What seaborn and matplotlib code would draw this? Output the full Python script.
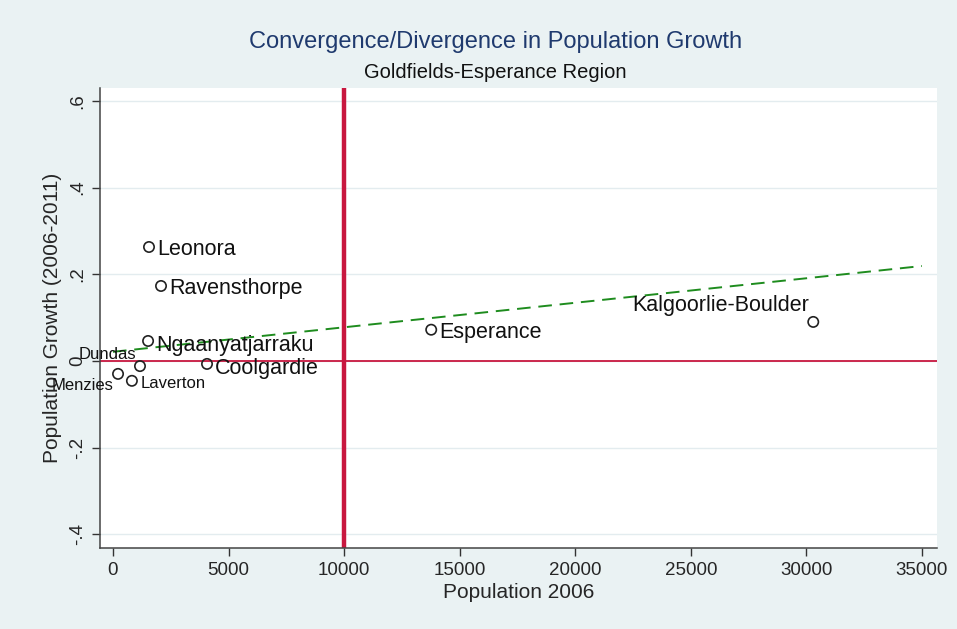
import numpy as np
import pandas as pd
import matplotlib
matplotlib.use("Agg")
import matplotlib.pyplot as plt
import seaborn as sns

# values
lgas = ["Leonora", "Ravensthorpe", "Ngaanyatjarraku", "Dundas", "Menzies",
        "Laverton", "Coolgardie", "Esperance", "Kalgoorlie-Boulder"]
pop_2006 = [1560, 2080, 1520, 1170, 220, 820, 4070, 13770, 30300]
growth = [0.263, 0.173, 0.046, -0.012, -0.030, -0.046, -0.007, 0.072, 0.090]

# fitted line as drawn (Stata lfit over the axis range)
fit_intercept = 0.021
fit_slope = 5.66e-6
fit_range = [0, 35000]

x_ticks = [0, 5000, 10000, 15000, 20000, 25000, 30000, 35000]
y_ticks = [-0.4, -0.2, 0, 0.2, 0.4, 0.6]
y_tick_labels = ["-.4", "-.2", "0", ".2", ".4", ".6"]
ref_pop = 10000
ref_growth = 0

df = pd.DataFrame({"lga": lgas, "pop": pop_2006, "growth": growth})
fit = pd.DataFrame({"pop": fit_range})
fit["growth"] = fit_intercept + fit_slope * fit["pop"]

sns.set_theme(style="white")
plt.rcParams["font.family"] = ["Liberation Sans", "DejaVu Sans"]

bg = "#EAF2F3"
fig = plt.figure(figsize=(9.57, 6.29), dpi=100, facecolor=bg)
ax = fig.add_axes([0.1045, 0.1288, 0.8745, 0.7312])
ax.set_facecolor("white")

# reference lines
ax.axhline(ref_growth, color="#C8173F", lw=1.3, zorder=2)
ax.axvline(ref_pop, color="#C8173F", lw=3.2, zorder=2)

sns.lineplot(data=fit, x="pop", y="growth", ax=ax, color="#1E8C1E",
             lw=1.4, linestyle=(0, (7, 4)), zorder=3)
sns.scatterplot(data=df, x="pop", y="growth", ax=ax, s=55,
                facecolors="none", edgecolors="#222222", linewidth=1.2,
                marker="o", zorder=4)

# label placement (offset in points, alignment, size)
big = 15.5
small = 12
label_style = {
    "Leonora": ((6, -2), "left", "center", big),
    "Ravensthorpe": ((6, -2), "left", "center", big),
    "Ngaanyatjarraku": ((6, -3), "left", "center", big),
    "Coolgardie": ((6, -3), "left", "center", big),
    "Esperance": ((6, -2), "left", "center", big),
    "Kalgoorlie-Boulder": ((-3, 4), "right", "bottom", big),
    "Dundas": ((-3, 8), "right", "center", small),
    "Menzies": ((-3, -8), "right", "center", small),
    "Laverton": ((6, -2), "left", "center", small),
}
for _, r in df.iterrows():
    off, ha, va, fs = label_style[r["lga"]]
    ax.annotate(r["lga"], (r["pop"], r["growth"]), xytext=off,
                textcoords="offset points", ha=ha, va=va, fontsize=fs,
                color="#111111", zorder=5)

ax.set_xlim(-560, 35650)
ax.set_ylim(-0.432, 0.63)
ax.set_xticks(x_ticks)
ax.set_xticklabels([str(t) for t in x_ticks], fontsize=13.5)
ax.set_yticks(y_ticks)
ax.set_yticklabels(y_tick_labels, fontsize=13.5, rotation=90, va="center")
ax.tick_params(axis="both", direction="out", length=6, width=1,
               color="#333333", bottom=True, left=True, pad=4)
ax.grid(axis="y", color="#E3ECEF", lw=1)
ax.set_axisbelow(True)

for s in ["top", "right"]:
    ax.spines[s].set_visible(False)
for s in ["left", "bottom"]:
    ax.spines[s].set_color("#444444")
    ax.spines[s].set_linewidth(1.1)

ax.set_xlabel("Population 2006", fontsize=15, labelpad=3)
ax.set_ylabel("Population Growth (2006-2011)", fontsize=15, labelpad=5)

fig.text(0.5175, 0.933, "Convergence/Divergence in Population Growth",
         ha="center", va="center", fontsize=17, color="#1F3A6E")
fig.text(0.5175, 0.884, "Goldfields-Esperance Region",
         ha="center", va="center", fontsize=14.5, color="#111111")

fig.savefig("out.png", dpi=100, facecolor=bg)
